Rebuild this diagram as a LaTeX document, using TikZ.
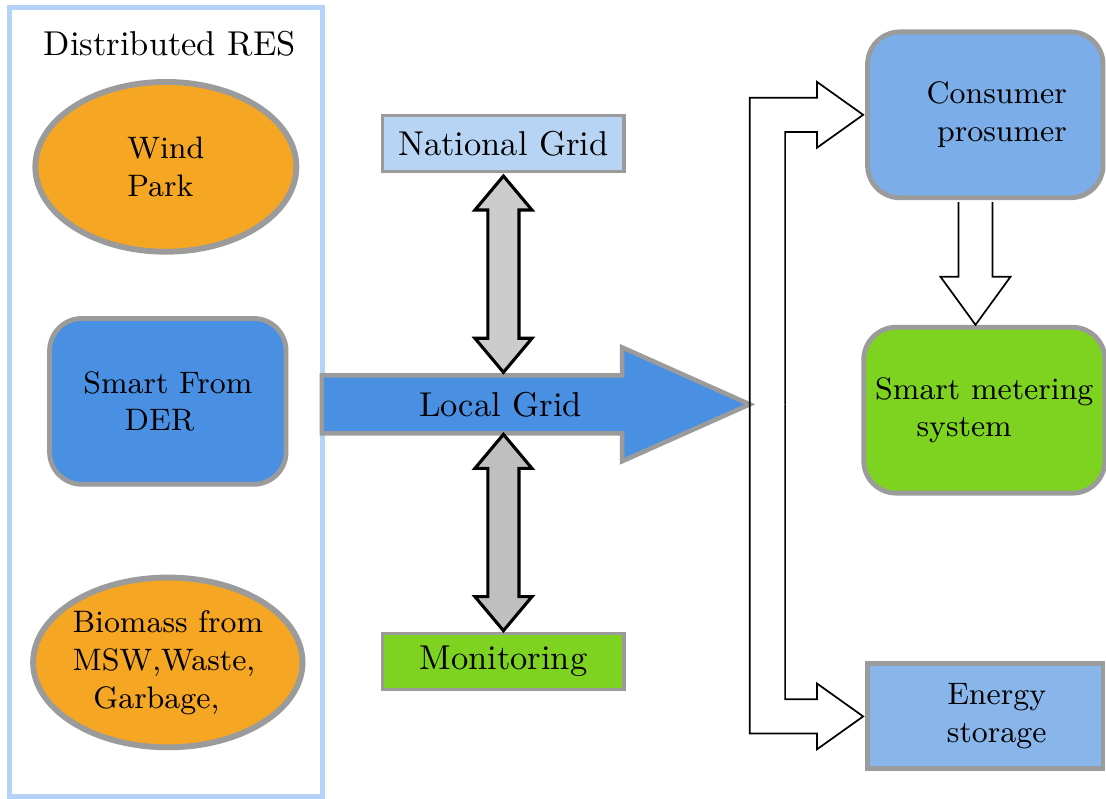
\documentclass[tikz,border=0pt]{standalone}
\usetikzlibrary{shapes.geometric,shapes.arrows,calc}
\definecolor{resorange}{HTML}{F5A623}
\definecolor{derblue}{HTML}{4A90E2}
\definecolor{consumerblue}{HTML}{7BAEE8}
\definecolor{storageblue}{HTML}{88B5EA}
\definecolor{natblue}{HTML}{B8D4F4}
\definecolor{framblue}{HTML}{B4D2F5}
\definecolor{metergreen}{HTML}{7ED321}
\definecolor{edgegray}{HTML}{9B9B9B}
\tikzset
{
	res frame/.style={draw=framblue,line width=1.4pt},
	res source/.style={ellipse,draw=edgegray,line width=1.7pt,fill=resorange,inner sep=0pt,minimum width=2.66cm,minimum height=1.73cm,font=\small,align=left},
	my box/.style={draw=edgegray,line width=1.4pt,minimum width=2.40cm,minimum height=1.69cm,rounded corners=0.33cm,font=\small},
	grid box/.style={draw=edgegray,line width=1pt,minimum width=2.46cm,minimum height=0.57cm},
	updown/.style={double arrow,rotate=90,draw,line width=0.9pt,minimum height=2cm,minimum width=0pt,inner sep=0.1425cm,double arrow head extend=0.1325cm,double arrow tip angle=80},
	hollow/.style={draw,line width=0.5pt,line join=miter}
}

\begin{document}
\begin{tikzpicture}
	\useasboundingbox (0,0) rectangle (11.27,8.14);
	% distributed RES
	\draw[res frame] (0.10,0.02) rectangle (3.29,8.06);
	\node (res) at (1.73,7.69) {Distributed RES};
	\node[res source] (wind) at (1.69,6.44) {Wind\\Park};
	\node[my box,fill=derblue,minimum width=2.41cm,align=left] (der) at (1.71,4.05) {Smart From\\\hspace*{12pt}DER};
	\node[res source] (bio) at (1.71,1.39) {Biomass from\\MSW,Waste,\\\hspace*{6pt}Garbage,};
	% local grid
	\draw[draw=edgegray,line width=1.3pt,fill=derblue] (3.28,3.725) -- (6.34,3.725) -- (6.34,3.44) -- (7.64,4.02) -- (6.34,4.60) -- (6.34,4.315) -- (3.28,4.315) -- cycle;
	\coordinate (tip) at (7.64,4.02);
	\coordinate (gridN) at (5.13,4.315);
	\coordinate (gridS) at (5.13,3.725);
	\node (local) at (5.10,4.02) {Local Grid};
	\node[grid box,fill=natblue] (national) at (5.13,6.68) {National Grid};
	\node[grid box,fill=metergreen] (monitor) at (5.13,1.40) {Monitoring};
	\node[updown,fill=gray!40] (up) at ($(national.south)!0.5!(gridN)$) {};
	\node[updown,fill=gray!50] (down) at ($(gridS)!0.5!(monitor.north)$) {};
	% consumers
	\node[my box,fill=consumerblue,align=right] (consumer) at (10.04,6.97) {\hspace*{6.6pt}Consumer\\prosumer};
	\node[my box,fill=metergreen,align=left] (meter) at (10.03,3.96) {Smart metering\\\hspace*{12pt}system};
	\node[my box,sharp corners,fill=storageblue,minimum height=1.07cm,align=center] (storage) at (10.04,0.84) {\hspace*{6.6pt}Energy\\\hspace*{6.6pt}storage};
	% hollow arrows
	\draw[hollow] (tip) |- ($(consumer.west)+(-0.49,0.175)$) -- ++(0,0.16) -- ($(consumer.west)+(-0.02,0)$) -- ++(-0.47,-0.335) -- ++(0,0.16) -| ($(tip)+(0.36,0)$);
	\draw[hollow] (tip) |- ($(storage.west)+(-0.49,-0.175)$) -- ++(0,-0.16) -- ($(storage.west)+(-0.02,0)$) -- ++(-0.47,0.335) -- ++(0,-0.16) -| ($(tip)+(0.36,0)$);
	\coordinate (dn) at ($(consumer.south)+(-0.10,-0.02)$);
	\draw[hollow] ($(dn)+(-0.173,0)$) -- ++(0,-0.76) -- ++(-0.184,0) -- (dn |- meter.north) -- ($(dn)+(0.357,-0.76)$) -- ++(-0.184,0) -- ($(dn)+(0.173,0)$);
\end{tikzpicture}
\end{document}
